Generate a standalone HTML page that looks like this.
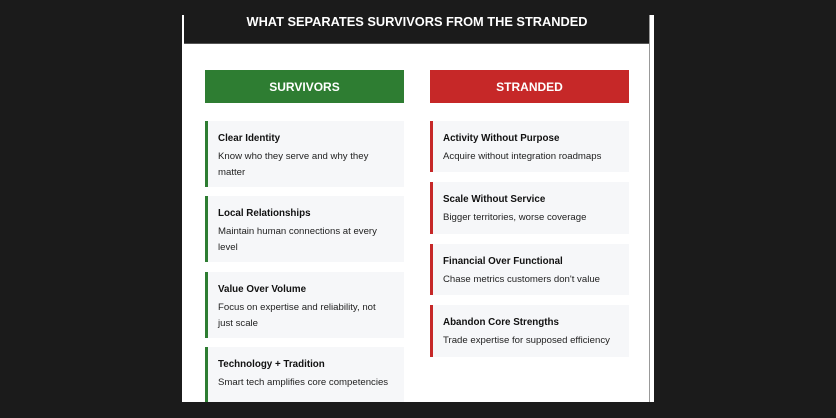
<!DOCTYPE html>
<html><head><style>
body{margin:0;width:836px;height:418px;background:#1b1b1b;position:relative;overflow:hidden;font-family:"Liberation Sans",sans-serif}
.panel{position:absolute;left:182px;top:15px;width:472px;height:388px;background:#fff}
.inner{position:absolute;left:184px;top:0;width:466px;height:402px;background:#fff}
.hdr{position:absolute;left:184px;top:0;width:466px;height:43px;background:#1b1b1b;border-bottom:1px solid #555;color:#fff;font-weight:bold;font-size:12.8px;text-align:center;line-height:44px}
.colh{position:absolute;top:70px;width:199px;height:33px;color:#fff;font-weight:bold;font-size:12px;text-align:center;line-height:35px}
.card{position:absolute;width:196px;background:#f6f7f9;border-left:3px solid}
.card b{position:absolute;left:10px;top:12px;font-size:9.8px;color:#111}
.card p{position:absolute;left:10px;top:28px;margin:0;font-size:9.6px;color:#222;line-height:15.5px;width:172px}
.g{left:205px;border-color:#2e7d32}.r{left:430px;border-color:#c62828}
</style></head><body>
<div class="panel"></div>
<div class="inner"></div>
<div class="hdr">WHAT SEPARATES SURVIVORS FROM THE STRANDED</div>
<div class="colh" style="left:205px;background:#2e7d32">SURVIVORS</div>
<div class="colh" style="left:430px;background:#c62828">STRANDED</div>
<div class="card g" style="top:121px;height:66px"><b>Clear Identity</b><p>Know who they serve and why they matter</p></div>
<div class="card g" style="top:196px;height:66px"><b>Local Relationships</b><p>Maintain human connections at every level</p></div>
<div class="card g" style="top:272px;height:66px"><b>Value Over Volume</b><p>Focus on expertise and reliability, not just scale</p></div>
<div class="card g" style="top:347px;height:55px"><b>Technology + Tradition</b><p>Smart tech amplifies core competencies</p></div>
<div class="card r" style="top:121px;height:51px"><b>Activity Without Purpose</b><p>Acquire without integration roadmaps</p></div>
<div class="card r" style="top:182px;height:52px"><b>Scale Without Service</b><p>Bigger territories, worse coverage</p></div>
<div class="card r" style="top:244px;height:51px"><b>Financial Over Functional</b><p>Chase metrics customers don't value</p></div>
<div class="card r" style="top:305px;height:52px"><b>Abandon Core Strengths</b><p>Trade expertise for supposed efficiency</p></div>
<div style="position:absolute;left:649px;top:15px;width:1px;height:387px;background:#999"></div>
<div style="position:absolute;left:0;top:402px;width:836px;height:16px;background:#1b1b1b"></div>
</body></html>
